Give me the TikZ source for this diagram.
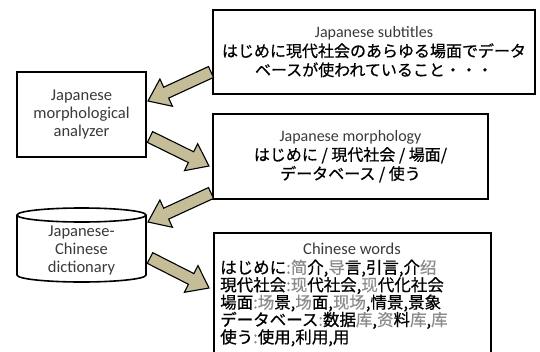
\documentclass[tikz,border=0pt]{standalone}
\usepackage{fontspec}
\setmainfont{Carlito}
\newfontfamily\jpfont[FakeBold=0.6]{Noto Sans CJK JP}
\newfontfamily\zhfont[FakeBold=0.6]{Noto Sans CJK SC}
\usetikzlibrary{calc}
\definecolor{tanfill}{HTML}{C4BD97}
\definecolor{lbl}{HTML}{3A3A3A}
\definecolor{zhgray}{HTML}{8C8C8C}
\newcommand\gz[1]{{\color{zhgray}\zhfont #1}}
\newcommand\entitle[1]{{\fontsize{16}{19}\selectfont\rmfamily\color{lbl}#1}}
\newcommand\blockarr[2]{%
  \path ($(#2)!20pt!(#1)$) coordinate (hh);
  \draw[blk] ($(#1)!6pt!90:(#2)$) -- ($(hh)!6pt!-90:(#1)$) -- ($(hh)!15pt!-90:(#1)$)
    -- (#2) -- ($(hh)!15pt!90:(#1)$) -- ($(hh)!6pt!90:(#1)$) -- ($(#1)!6pt!-90:(#2)$) -- cycle;}
\begin{document}
\begin{tikzpicture}[x=1pt,y=-1pt,
  box/.style={draw, line width=1.6pt, rectangle, inner sep=0pt},
  en/.style={font=\fontsize{16.5}{18}\selectfont, text=lbl},
  jp/.style={font=\jpfont\fontsize{16}{19}\selectfont},
  blk/.style={draw=black, line width=1.1pt, fill=tanfill, line join=miter}]
\useasboundingbox (0,0) rectangle (540,351);
\clip (0,0) rectangle (540,351);
\fill[white] (0,0) rectangle (540,351);

% Japanese subtitles
\node[box, jp, minimum width=322pt, minimum height=84pt, align=center] (sub) at (374,52)
  {\entitle{Japanese subtitles}\\
   はじめに現代社会のあらゆる場面でデータ\\
   ベースが使われていること・・・};

% analyzer
\node[box, minimum width=129pt, minimum height=85pt, align=center, en] (ana) at (81.5,114.5)
  {Japanese\\morphological\\analyzer};

% Japanese morphology
\node[box, jp, minimum width=275pt, minimum height=85pt, align=center] (mor) at (350.5,156.5)
  {\entitle{Japanese morphology}\\
   はじめに / 現代社会 / 場面/\\
   データベース / 使う};

% dictionary cylinder
\draw[line width=1.6pt, fill=white] (17,215) -- (17,275) arc[start angle=180, end angle=360, x radius=64.5pt, y radius=7pt] -- (146,215);
\draw[line width=1.6pt] (81.5,215) ellipse[x radius=64.5pt, y radius=7pt];
\node[en, align=center, inner sep=0pt] (dict) at (81.5,251) {Japanese-\\Chinese\\dictionary};

% Chinese words
\node[box, minimum width=277pt, minimum height=128pt, anchor=north west] (cw) at (213,232) {};
\node[en, inner sep=0pt] (cwt) at (352,249) {Chinese words};
\node[anchor=north west, inner sep=0pt, align=left, font=\jpfont\fontsize{16.5}{17.4}\selectfont] (cwl) at (220,259.5)
  {はじめに\gz{:}\gz{简}介,\gz{导}言,引言,介\gz{绍}\\
   現代社会\gz{:}\gz{现}代社会,\gz{现}代化社会\\
   場面\gz{:}\gz{场}景,\gz{场}面,\gz{现场},情景,景象\\
   データベース\gz{:}数据\gz{库},\gz{资}料\gz{库},\gz{库}\\
   使う\gz{:}使用,利用,用};

% block arrows
\coordinate (a1s) at (211,72);  \coordinate (a1e) at (148,101);
\coordinate (a2s) at (150,137); \coordinate (a2e) at (209,166);
\coordinate (a3s) at (211,193); \coordinate (a3e) at (148,222);
\coordinate (a4s) at (150,258); \coordinate (a4e) at (209,288);
\blockarr{a1s}{a1e}
\blockarr{a2s}{a2e}
\blockarr{a3s}{a3e}
\blockarr{a4s}{a4e}
\end{tikzpicture}
\end{document}
